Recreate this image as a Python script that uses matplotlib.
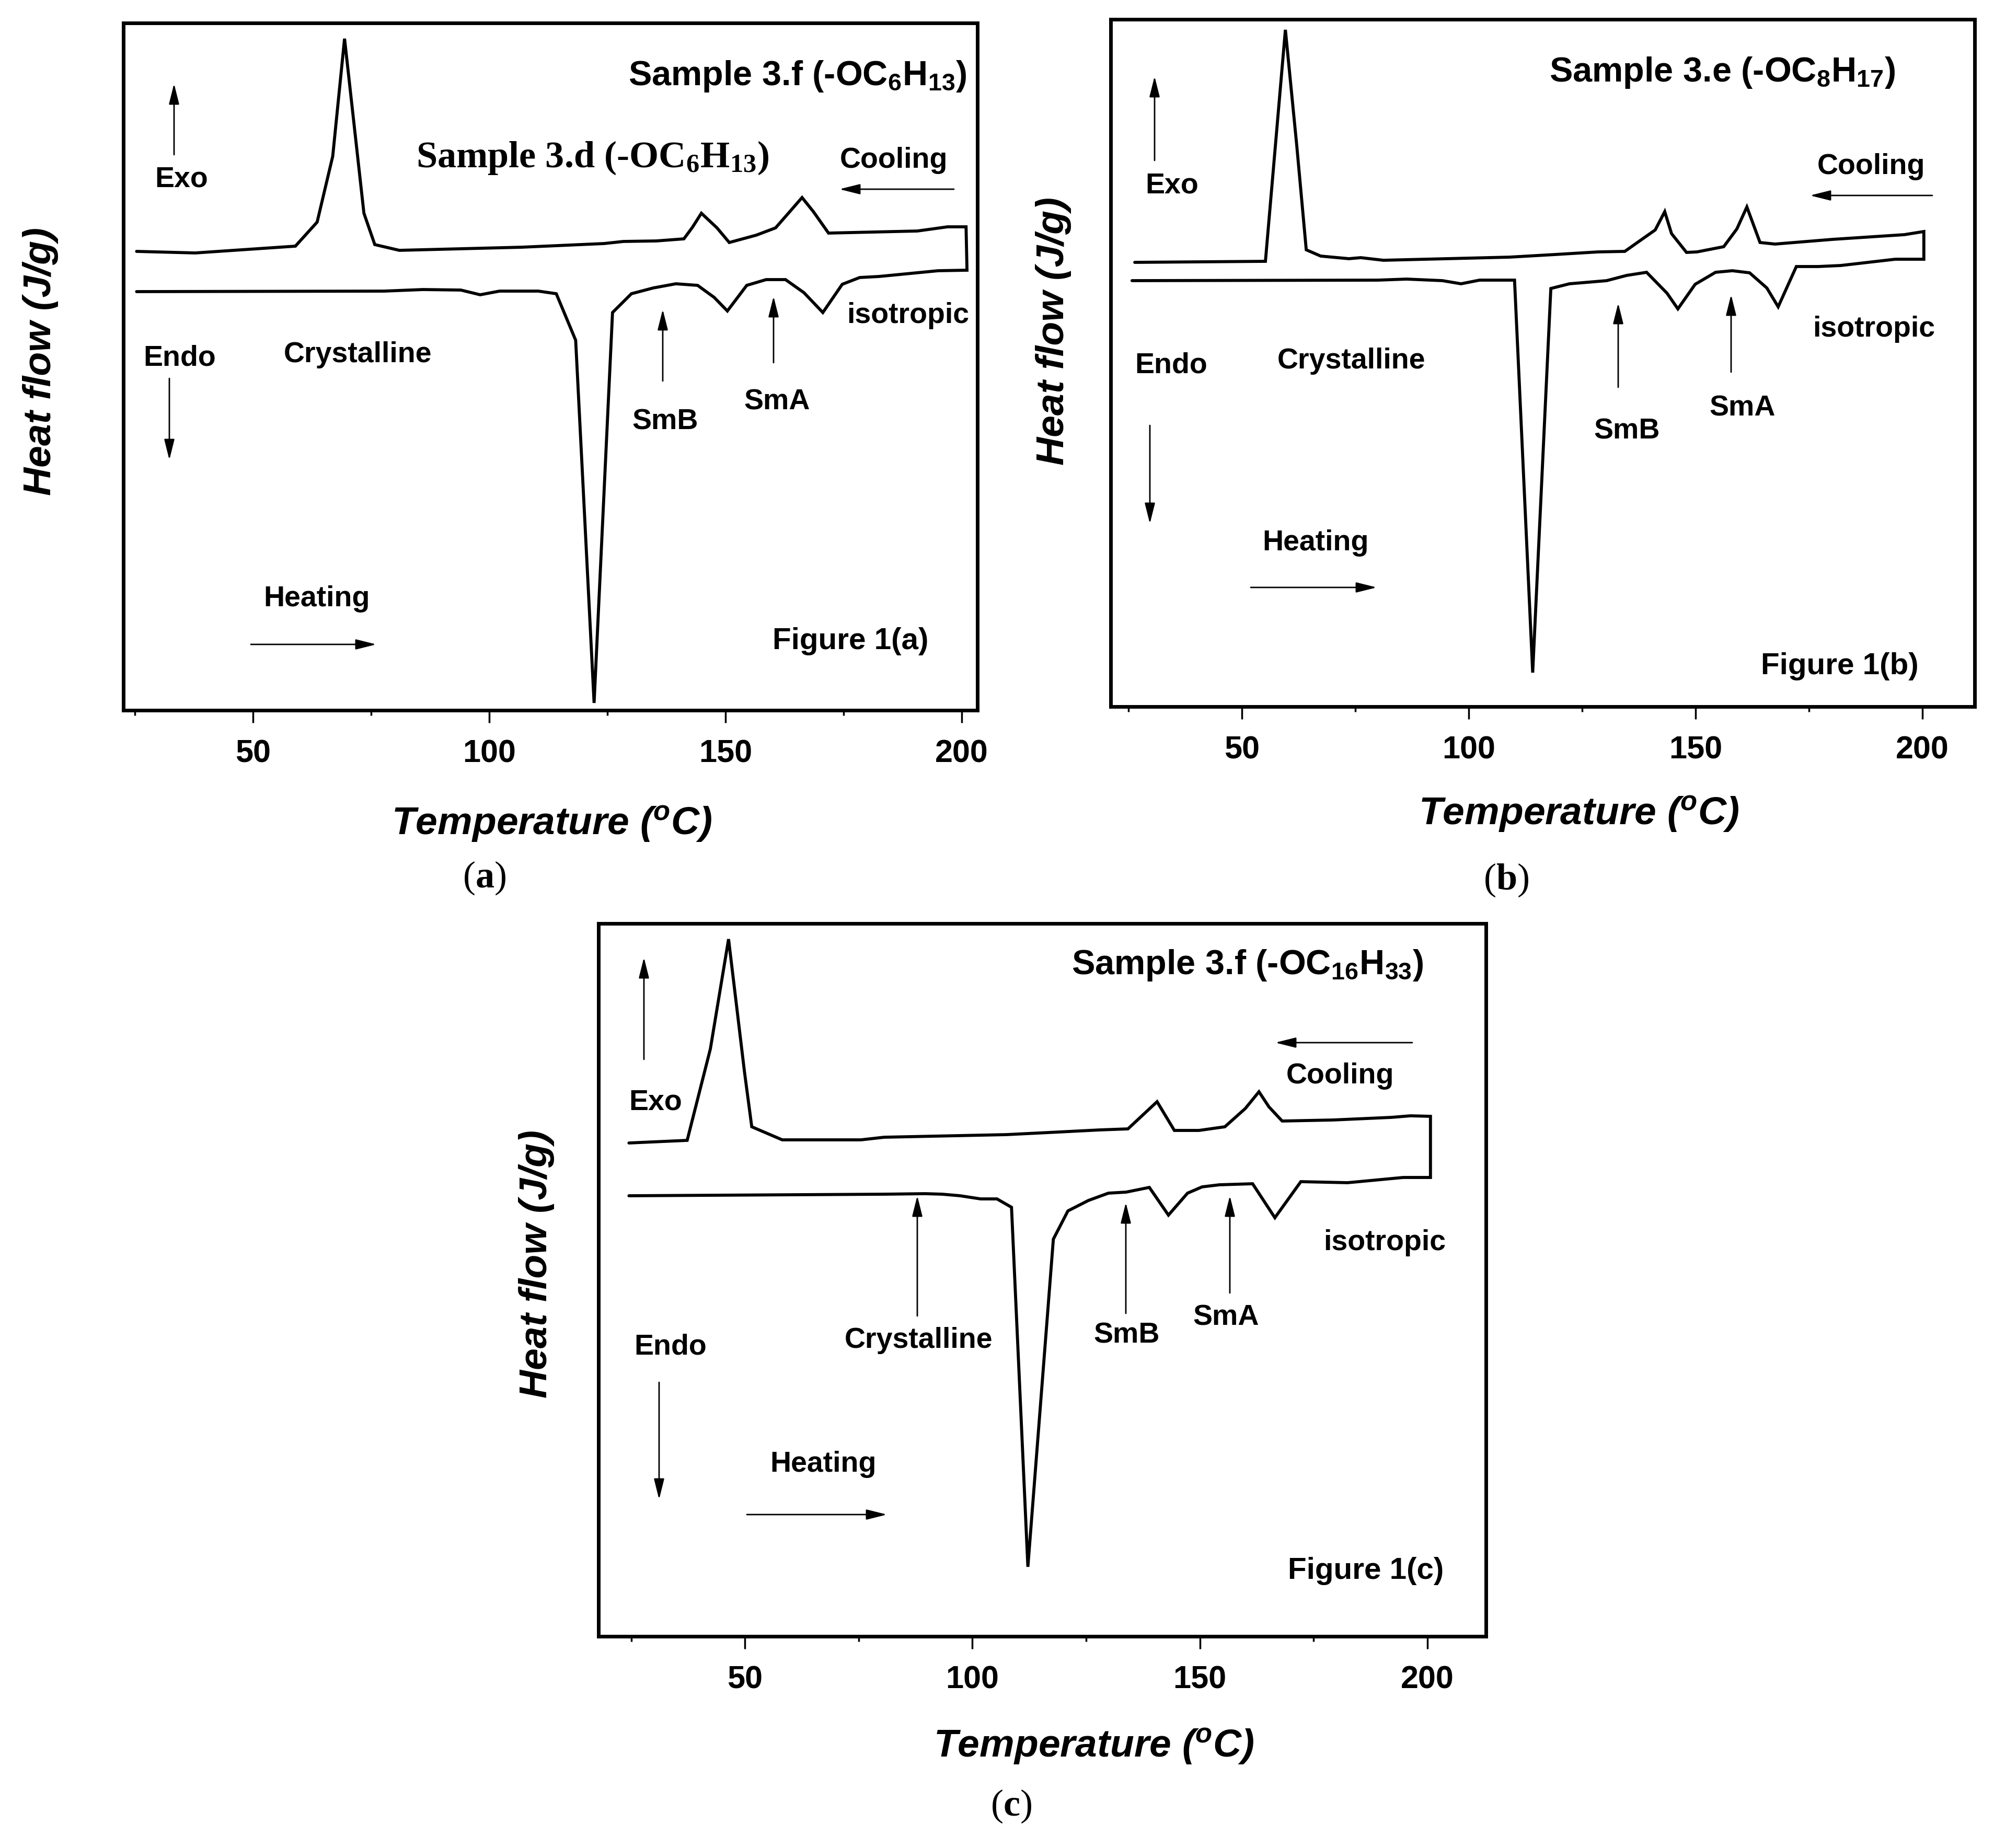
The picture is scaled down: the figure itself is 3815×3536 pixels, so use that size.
import matplotlib.pyplot as plt

plt.rcParams['font.family'] = ['Liberation Sans', 'DejaVu Sans']
plt.rcParams['mathtext.fontset'] = 'custom'
plt.rcParams['mathtext.default'] = 'regular'
plt.rcParams['mathtext.bf'] = 'Liberation Serif:bold'

W, H = 3816, 3537

# ---- panel (a): sample 3.d, cooling run (upper trace) and heating run (lower trace)
cool_a_T = [25.4, 37.8, 59.0, 63.6, 66.9, 69.4, 73.5, 75.8, 81.0, 106.9, 124.3, 128.4,
            135.4, 141.2, 143.0, 144.9, 148.2, 150.8, 156.5, 160.6, 163.6, 166.2, 168.6,
            171.8, 190.6, 197.0, 200.9]
cool_a_hf = [87.6, 87.3, 88.6, 93.2, 105.8, 128.3, 94.9, 88.9, 87.8, 88.4, 89.1, 89.5,
             89.6, 90.0, 92.2, 94.9, 92.1, 89.3, 90.7, 92.1, 95.2, 97.9, 95.2,
             91.1, 91.5, 92.3, 92.3]
heat_a_T = [201.1, 195.0, 182.5, 178.4, 174.7, 170.6, 166.6, 162.7, 158.6, 154.5, 150.4,
            147.6, 144.1, 139.5, 134.7, 130.1, 126.1, 122.2, 118.3, 114.2, 110.4, 102.2,
            98.1, 94.0, 86.0, 77.8, 25.4]
heat_a_hf = [84.0, 83.9, 82.8, 82.6, 81.3, 75.9, 79.7, 82.2, 82.2, 81.1, 76.2,
             78.8, 81.1, 81.4, 80.6, 79.5, 75.9, 1.2, 70.6, 79.5, 80.0, 80.0,
             79.3, 80.2, 80.3, 80.0, 79.9]

# ---- panel (b): sample 3.e
cool_b_T = [26.4, 55.2, 59.6, 62.1, 64.2, 67.4, 73.6, 76.2, 81.2, 109.0, 119.0, 128.5,
            134.4, 141.1, 143.2, 144.7, 148.0, 150.3, 156.2, 159.1, 161.3, 164.2, 167.5,
            180.2, 196.0, 200.3]
cool_b_hf = [85.0, 85.2, 129.5, 107.4, 87.4, 86.2, 85.7, 85.9, 85.4, 86.0, 86.5, 87.0,
             87.1, 91.2, 94.7, 90.5, 86.9, 87.0, 88.0, 91.4, 95.6, 88.8, 88.5,
             89.4, 90.3, 90.9]
heat_b_T = [200.3, 194.0, 182.0, 177.0, 172.2, 168.2, 165.7, 161.9, 158.1, 154.4, 149.9,
            146.1, 143.7, 139.2, 134.8, 130.4, 122.2, 118.1, 114.1, 110.1, 102.4, 98.3,
            94.2, 86.3, 80.0, 25.8]
heat_b_hf = [85.6, 85.6, 84.4, 84.2, 84.2, 76.5, 80.1, 83.0, 83.4, 83.1, 80.8,
             76.1, 79.1, 83.1, 82.5, 81.5, 80.9, 80.0, 6.5, 81.6, 81.6, 80.9,
             81.5, 81.8, 81.6, 81.5]

# ---- panel (c): sample 3.f (-OC16H33)
cool_c_T = [24.5, 37.3, 42.4, 46.4, 49.9, 51.5, 58.2, 75.5, 80.6, 107.5, 119.0, 128.0,
            134.2, 140.6, 144.4, 149.8, 155.5, 160.0, 163.0, 165.2, 168.1, 179.3, 192.1,
            196.3, 200.7]
cool_c_hf = [94.2, 94.7, 112.2, 133.2, 107.8, 97.3, 94.8, 94.8, 95.3, 95.8, 96.3, 96.7,
             96.9, 102.1, 96.6, 96.6, 97.3, 100.8, 104.0, 101.1, 98.4, 98.6, 99.1,
             99.4, 99.3]
heat_c_T = [200.7, 194.7, 182.5, 172.2, 166.5, 161.6, 154.3, 150.5, 147.3, 143.1, 138.9,
            133.8, 129.9, 125.5, 121.0, 117.8, 112.2, 108.6, 105.4, 101.8, 97.3, 93.4,
            89.6, 80.6, 24.5]
heat_c_hf = [87.6, 87.6, 86.6, 86.8, 79.9, 86.4, 86.2, 85.8, 84.6, 80.4, 85.7,
             84.8, 84.6, 83.2, 81.2, 75.8, 13.1, 81.9, 83.5, 83.5, 84.1, 84.4,
             84.5, 84.4, 84.1]

major_ticks = [50, 100, 150, 200]
minor_ticks = [25, 75, 125, 175]

fig = plt.figure(figsize=(W / 100, H / 100), dpi=100)


def px(x, y):
    # reference pixel (top-left origin) -> figure fraction
    return x / W, 1 - y / H


def panel(box, xlim, ylim, cool_T, cool_hf, heat_T, heat_hf):
    l, t, r, b = box
    ax = fig.add_axes([l / W, 1 - b / H, (r - l) / W, (b - t) / H])
    # cooling trace, then down the vertical step at 200 C and back along the heating trace
    ax.plot(cool_T + heat_T, cool_hf + heat_hf, color='k', lw=4.2,
            solid_joinstyle='miter', solid_capstyle='round')
    ax.set_xlim(*xlim)
    ax.set_ylim(*ylim)
    ax.set_yticks([])
    ax.set_xticks(major_ticks)
    ax.set_xticks(minor_ticks, minor=True)
    ax.tick_params(axis='x', which='major', direction='out', length=17, width=2.5,
                   labelsize=44, pad=22)
    ax.tick_params(axis='x', which='minor', direction='out', length=7, width=2.5)
    for lbl in ax.get_xticklabels():
        lbl.set_fontweight('bold')
    for s in ax.spines.values():
        s.set_linewidth(5)
    return ax


def note(s, x, y, size=40, **kw):
    kw.setdefault('fontweight', 'bold')
    fig.text(*px(x, y), s, ha='center', va='center', fontsize=size, **kw)


def arrow(ax, x0, y0, x1, y1):
    ax.annotate('', xy=(x1, H - y1), xytext=(x0, H - y0), xycoords='figure pixels',
                textcoords='figure pixels',
                arrowprops=dict(arrowstyle='-|>,head_length=0.8,head_width=0.2',
                                lw=2, color='k', mutation_scale=30,
                                shrinkA=0, shrinkB=0))


ax_a = panel((236, 45, 1870, 1360), (22.6, 203.3), (-0.2, 131.3),
             cool_a_T, cool_a_hf, heat_a_T, heat_a_hf)
ax_b = panel((2125, 38, 3778, 1353), (21.1, 211.5), (0, 131.5),
             cool_b_T, cool_b_hf, heat_b_T, heat_b_hf)
ax_c = panel((1145, 1768, 2843, 3132), (17.8, 212.9), (-0.2, 136.2),
             cool_c_T, cool_c_hf, heat_c_T, heat_c_hf)

axis_x = 'Temperature ($^o$C)'
axis_y = 'Heat flow (J/g)'

# ---- labels panel (a)
note(r'Sample 3.f (-OC$_6$H$_{13}$)', 1526, 146, size=48)
note(r'Sample 3.d (-OC$_6$H$_{13}$)', 1134, 302, size=52, fontfamily='Liberation Serif')
note('Cooling', 1710, 307)
arrow(ax_a, 1825, 363, 1606, 363)
note('Exo', 347, 343)
arrow(ax_a, 333, 297, 333, 161)
note('Endo', 344, 686)
arrow(ax_a, 324, 725, 324, 881)
note('Crystalline', 685, 679)
note('isotropic', 1737, 604)
note('SmB', 1273, 808)
arrow(ax_a, 1268, 730, 1268, 593)
note('SmA', 1487, 769)
arrow(ax_a, 1480, 695, 1480, 568)
note('Heating', 606, 1146)
arrow(ax_a, 480, 1234, 720, 1234)
note('Figure 1(a)', 1627, 1227, size=42)
note(axis_x, 1056, 1577, size=54, fontstyle='italic')
note(axis_y, 78, 691, size=54, fontstyle='italic', rotation=90)
note(r'($\mathbf{a}$)', 927, 1680, size=52, fontweight='normal', fontfamily='Liberation Serif')

# ---- labels panel (b)
note(r'Sample 3.e (-OC$_8$H$_{17}$)', 3295, 139, size=48)
note('Cooling', 3580, 319)
arrow(ax_b, 3697, 375, 3463, 375)
note('Exo', 2242, 355)
arrow(ax_b, 2209, 308, 2209, 147)
note('Endo', 2241, 699)
arrow(ax_b, 2200, 815, 2200, 1003)
note('Crystalline', 2586, 691)
note('isotropic', 3585, 630)
note('SmB', 3113, 825)
arrow(ax_b, 3096, 742, 3096, 581)
note('SmA', 3334, 781)
arrow(ax_b, 3312, 713, 3312, 565)
note('Heating', 2517, 1039)
arrow(ax_b, 2393, 1125, 2634, 1125)
note('Figure 1(b)', 3520, 1275, size=42)
note(axis_x, 3021, 1558, size=54, fontstyle='italic')
note(axis_y, 2015, 633, size=54, fontstyle='italic', rotation=90)
note(r'($\mathbf{b}$)', 2882, 1684, size=52, fontweight='normal', fontfamily='Liberation Serif')

# ---- labels panel (c)
note(r'Sample 3.f (-OC$_{16}$H$_{33}$)', 2387, 1847, size=48)
note('Exo', 1254, 2110)
arrow(ax_c, 1232, 2028, 1232, 1833)
note('Cooling', 2564, 2059)
arrow(ax_c, 2702, 1996, 2440, 1996)
note('isotropic', 2649, 2378)
note('Crystalline', 1758, 2565)
arrow(ax_c, 1755, 2519, 1755, 2289)
note('SmB', 2156, 2556)
arrow(ax_c, 2154, 2514, 2154, 2302)
note('SmA', 2346, 2522)
arrow(ax_c, 2353, 2475, 2353, 2289)
note('Endo', 1283, 2578)
arrow(ax_c, 1261, 2646, 1261, 2870)
note('Heating', 1575, 2802)
arrow(ax_c, 1429, 2899, 1697, 2899)
note('Figure 1(c)', 2613, 3006, size=42)
note(axis_x, 2093, 3342, size=54, fontstyle='italic')
note(axis_y, 1027, 2419, size=54, fontstyle='italic', rotation=90)
note(r'($\mathbf{c}$)', 1935, 3456, size=52, fontweight='normal', fontfamily='Liberation Serif')

fig.savefig('out.png', dpi=100)
